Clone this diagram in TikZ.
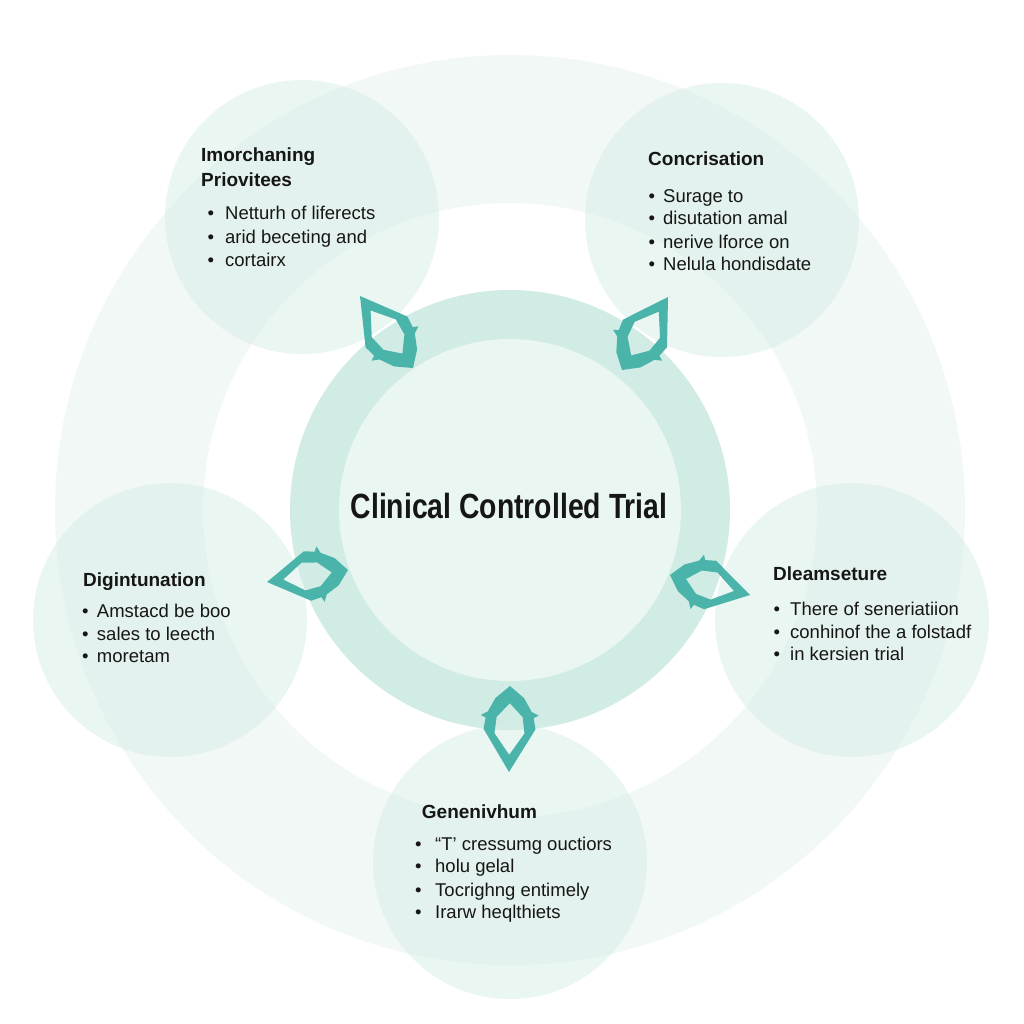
\documentclass[tikz,border=0pt]{standalone}
\usepackage{fontspec}
\usepackage{graphicx}
\setmainfont{Liberation Sans}
\usetikzlibrary{calc}
\definecolor{outerring}{RGB}{242,248,246}
\definecolor{midring}{RGB}{208,236,228}
\definecolor{innerdisc}{RGB}{234,246,242}
\definecolor{satfill}{RGB}{214,238,231}
\definecolor{arrowc}{RGB}{74,180,170}
\definecolor{ink}{RGB}{22,22,22}
\newcommand\kiteshape[3]{%
 \pgfmathsetmacro\kw{#3}%
 \pgfmathsetmacro\kwa{#3-2}%
 \pgfmathsetmacro\kwb{#3+3}%
 \pgfmathsetmacro\kwd{#3-4}%
 \pgfmathsetmacro\kwc{#3*0.55}%
 \pgfmathsetmacro\kwh{#3-11}%
 \pgfmathsetmacro\kwi{#3-13}%
 \fill[arrowc, even odd rule]
   (#1)
   -- ($(#1)!0.5!(#2)!\kw pt!90:(#2)$)
   -- ($(#1)!0.63!(#2)!\kwa pt!90:(#2)$)
   -- ($(#1)!0.66!(#2)!\kwb pt!90:(#2)$)
   -- ($(#1)!0.7!(#2)!\kwd pt!90:(#2)$)
   -- ($(#1)!0.86!(#2)!\kwc pt!90:(#2)$)
   -- (#2)
   -- ($(#1)!0.86!(#2)!\kwc pt!-90:(#2)$)
   -- ($(#1)!0.7!(#2)!\kwd pt!-90:(#2)$)
   -- ($(#1)!0.66!(#2)!\kwb pt!-90:(#2)$)
   -- ($(#1)!0.63!(#2)!\kwa pt!-90:(#2)$)
   -- ($(#1)!0.5!(#2)!\kw pt!-90:(#2)$)
   -- cycle
   ($(#1)!0.2!(#2)$)
   -- ($(#1)!0.45!(#2)!\kwh pt!90:(#2)$)
   -- ($(#1)!0.64!(#2)!\kwi pt!90:(#2)$)
   -- ($(#1)!0.8!(#2)$)
   -- ($(#1)!0.64!(#2)!\kwi pt!-90:(#2)$)
   -- ($(#1)!0.45!(#2)!\kwh pt!-90:(#2)$)
   -- cycle;%
}
\newcommand\bitem[2]{\makebox[#1pt][l]{\textbullet}#2}
\tikzset{
  sathead/.style={anchor=base west, inner sep=0pt, text=ink, font=\bfseries\fontsize{19}{23}\selectfont},
  satitem/.style={anchor=base west, inner sep=0pt, text=ink, font=\fontsize{18.5}{23}\selectfont},
  satdisc/.style={fill=satfill, fill opacity=0.5},
}
\begin{document}
\begin{tikzpicture}[x=1pt,y=-1pt]
\useasboundingbox (0,0) rectangle (1024,1024);
\fill[white] (0,0) rectangle (1024,1024);
\coordinate (C) at (510,510);
% outer faint ring
\fill[outerring, even odd rule] (C) circle[radius=455] (C) circle[radius=307];
% central ring
\fill[midring] (C) circle[radius=220];
\fill[innerdisc] (C) circle[radius=171];
% satellites
\coordinate (s1) at (302,217);
\coordinate (s2) at (722,220);
\coordinate (s3) at (170,620);
\coordinate (s4) at (852,620);
\coordinate (s5) at (510,862);
\foreach \s in {s1,s2,s3,s4,s5} \fill[satdisc] (\s) circle[radius=137];
% arrows
\coordinate (tlo) at (360,296); \coordinate (tli) at (413,368);
\coordinate (tro) at (668,297); \coordinate (tri) at (622,370);
\coordinate (lo) at (267,582);  \coordinate (li) at (348,570);
\coordinate (ro) at (750,595);  \coordinate (ri) at (670,575);
\coordinate (bo) at (509,772);  \coordinate (bi) at (510,686);
\kiteshape{tlo}{tli}{26}
\kiteshape{tro}{tri}{26}
\kiteshape{lo}{li}{25}
\kiteshape{ro}{ri}{25}
\kiteshape{bo}{bi}{26}
% central title
\node[anchor=base, inner sep=0pt, text=ink, font=\bfseries\fontsize{35}{40}\selectfont] (title) at (509,518) {\scalebox{0.81}[1]{Clinical Controlled Trial}};
% top-left
\node[sathead] (tlh1) at (201,162) {Imorchaning};
\node[sathead] (tlh2) at (201,187) {Priovitees};
\node[satitem] (tl1) at (207.5,220) {\bitem{17.5}{Netturh of liferects}};
\node[satitem] (tl2) at (207.5,243.3) {\bitem{17.5}{arid beceting and}};
\node[satitem] (tl3) at (207.5,266.7) {\bitem{17.5}{cortairx}};
% top-right
\node[sathead] (trh) at (648,166) {Concrisation};
\node[satitem] (tr1) at (648.5,202.7) {\bitem{14.5}{Surage to}};
\node[satitem] (tr2) at (648.5,225) {\bitem{14.5}{disutation amal}};
\node[satitem] (tr3) at (648.5,248.3) {\bitem{14.5}{nerive lforce on}};
\node[satitem] (tr4) at (648.5,270.7) {\bitem{14.5}{Nelula hondisdate}};
% left
\node[sathead] (lh) at (83,586) {Digintunation};
\node[satitem] (l1) at (81.8,617.3) {\bitem{15}{Amstacd be boo}};
\node[satitem] (l2) at (81.8,640.7) {\bitem{15}{sales to leecth}};
\node[satitem] (l3) at (81.8,662.7) {\bitem{15}{moretam}};
% right
\node[sathead] (rh) at (773,580.7) {Dleamseture};
\node[satitem] (r1) at (773.5,615) {\bitem{16.5}{There of seneriatiion}};
\node[satitem] (r2) at (773.5,638.3) {\bitem{16.5}{conhinof the a folstadf}};
\node[satitem] (r3) at (773.5,660.7) {\bitem{16.5}{in kersien trial}};
% bottom
\node[sathead] (bh) at (421.7,818.3) {Genenivhum};
\node[satitem] (b1) at (415,850) {\bitem{20}{“T’ cressumg ouctiors}};
\node[satitem] (b2) at (415,872.7) {\bitem{20}{holu gelal}};
\node[satitem] (b3) at (415,896) {\bitem{20}{Tocrighng entimely}};
\node[satitem] (b4) at (415,918.3) {\bitem{20}{Irarw heqlthiets}};
\end{tikzpicture}
\end{document}
